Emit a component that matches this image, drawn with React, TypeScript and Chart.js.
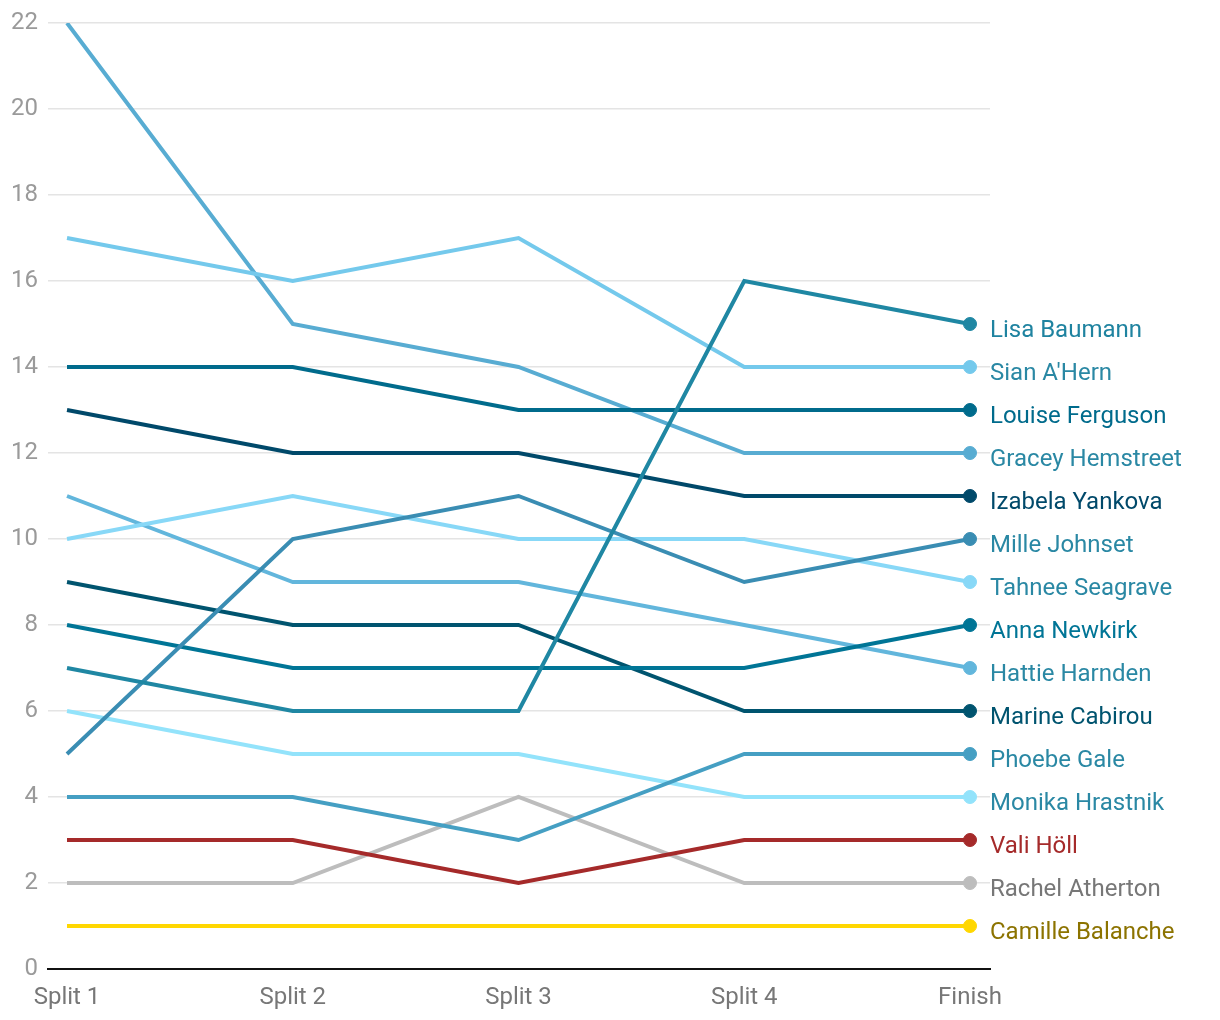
import React, { useEffect, useRef } from "react";
import { Chart, registerables } from "chart.js";

Chart.register(...registerables);

const stages = ["Split 1", "Split 2", "Split 3", "Split 4", "Finish"];
const riders = [
  "Lisa Baumann",
  "Sian A'Hern",
  "Louise Ferguson",
  "Gracey Hemstreet",
  "Izabela Yankova",
  "Mille Johnset",
  "Tahnee Seagrave",
  "Anna Newkirk",
  "Hattie Harnden",
  "Marine Cabirou",
  "Phoebe Gale",
  "Monika Hrastnik",
  "Vali Höll",
  "Rachel Atherton",
  "Camille Balanche",
];
const lisaBaumann = [7, 6, 6, 16, 15];
const sianAHern = [17, 16, 17, 14, 14];
const louiseFerguson = [14, 14, 13, 13, 13];
const graceyHemstreet = [22, 15, 14, 12, 12];
const izabelaYankova = [13, 12, 12, 11, 11];
const milleJohnset = [5, 10, 11, 9, 10];
const tahneeSeagrave = [10, 11, 10, 10, 9];
const annaNewkirk = [8, 7, 7, 7, 8];
const hattieHarnden = [11, 9, 9, 8, 7];
const marineCabirou = [9, 8, 8, 6, 6];
const phoebeGale = [4, 4, 3, 5, 5];
const monikaHrastnik = [6, 5, 5, 4, 4];
const valiHoll = [3, 3, 2, 3, 3];
const rachelAtherton = [2, 2, 4, 2, 2];
const camilleBalanche = [1, 1, 1, 1, 1];
const seriesValues = [
  lisaBaumann, sianAHern, louiseFerguson, graceyHemstreet, izabelaYankova,
  milleJohnset, tahneeSeagrave, annaNewkirk, hattieHarnden, marineCabirou,
  phoebeGale, monikaHrastnik, valiHoll, rachelAtherton, camilleBalanche,
];
const lineColors = [
  "#1f87a3", "#74c9ec", "#006b8c", "#58acd2", "#00496a",
  "#3a8db3", "#88d8f7", "#007596", "#62b6dc", "#00546f",
  "#459fc3", "#93e3fb", "#a52a2a", "#bdbdbd", "#ffd700",
];
const labelColors = [
  "#1f83a0", "#2a88a4", "#006b8c", "#2a88a4", "#00496a",
  "#2a88a4", "#2a88a4", "#007596", "#2a88a4", "#00546f",
  "#2a88a4", "#2a88a4", "#a52a2a", "#777777", "#8c7300",
];
const yTicks = [0, 2, 4, 6, 8, 10, 12, 14, 16, 18, 20, 22];

const FONT = "Roboto, 'Noto Sans', sans-serif";

const endLabels = {
  id: "endLabels",
  afterDatasetsDraw(chart: any) {
    const ctx = chart.ctx;
    ctx.save();
    ctx.font = `24px ${FONT}`;
    ctx.textAlign = "left";
    ctx.textBaseline = "middle";
    chart.data.datasets.forEach((ds: any, i: number) => {
      const meta = chart.getDatasetMeta(i);
      const pt = meta.data[meta.data.length - 1];
      if (!pt) return;
      ctx.fillStyle = labelColors[i];
      ctx.fillText(riders[i], pt.x + 20, pt.y + 7);
    });
    ctx.restore();
  },
};

export default function App() {
  const ref = useRef<HTMLCanvasElement>(null);
  useEffect(() => {
    if (!ref.current) return;
    const chart = new Chart(ref.current, {
      type: "line",
      data: {
        datasets: riders.map((name, i) => ({
          label: name,
          data: seriesValues[i].map((v, j) => ({ x: j, y: v })),
          borderColor: lineColors[i],
          backgroundColor: lineColors[i],
          borderWidth: 4,
          pointRadius: (c: any) => (c.dataIndex === stages.length - 1 ? 6.5 : 0),
          pointHoverRadius: 6.5,
          pointBorderWidth: 1,
          tension: 0,
          fill: false,
        })),
      },
      options: {
        animation: false,
        responsive: true,
        maintainAspectRatio: false,
        layout: { padding: { top: 15, right: 222, left: 0, bottom: 0 } },
        plugins: {
          legend: { display: false },
          tooltip: { enabled: false },
        },
        scales: {
          x: {
            type: "linear",
            min: -0.0842,
            max: 4.0886,
            afterBuildTicks: (axis: any) => {
              axis.ticks = stages.map((_, i) => ({ value: i }));
            },
            ticks: {
              callback: (v: any) => stages[v] ?? "",
              color: "#777777",
              font: { family: FONT, size: 24 },
              padding: 15,
              maxRotation: 0,
              autoSkip: false,
            },
            grid: { display: false, drawTicks: false },
            border: { display: true, color: "#111111", width: 2 },
            afterFit: (axis: any) => {
              axis.height = 43;
              axis.paddingLeft = 0;
              axis.paddingRight = 0;
            },
          },
          y: {
            min: 0,
            max: 22,
            afterBuildTicks: (axis: any) => {
              axis.ticks = yTicks.map((v) => ({ value: v }));
            },
            ticks: {
              color: "#9a9a9a",
              font: { family: FONT, size: 24 },
              padding: 10,
            },
            grid: { color: "#e4e4e4", lineWidth: 1.5, drawTicks: false },
            border: { display: false },
            afterFit: (axis: any) => {
              axis.width = 40;
              axis.paddingTop = 0;
              axis.paddingBottom = 0;
            },
          },
        },
      },
      plugins: [endLabels],
    });
    return () => chart.destroy();
  }, []);
  return (
    <div style={{ width: 1204, height: 1004, position: "relative" }}>
      <canvas ref={ref} />
    </div>
  );
}
